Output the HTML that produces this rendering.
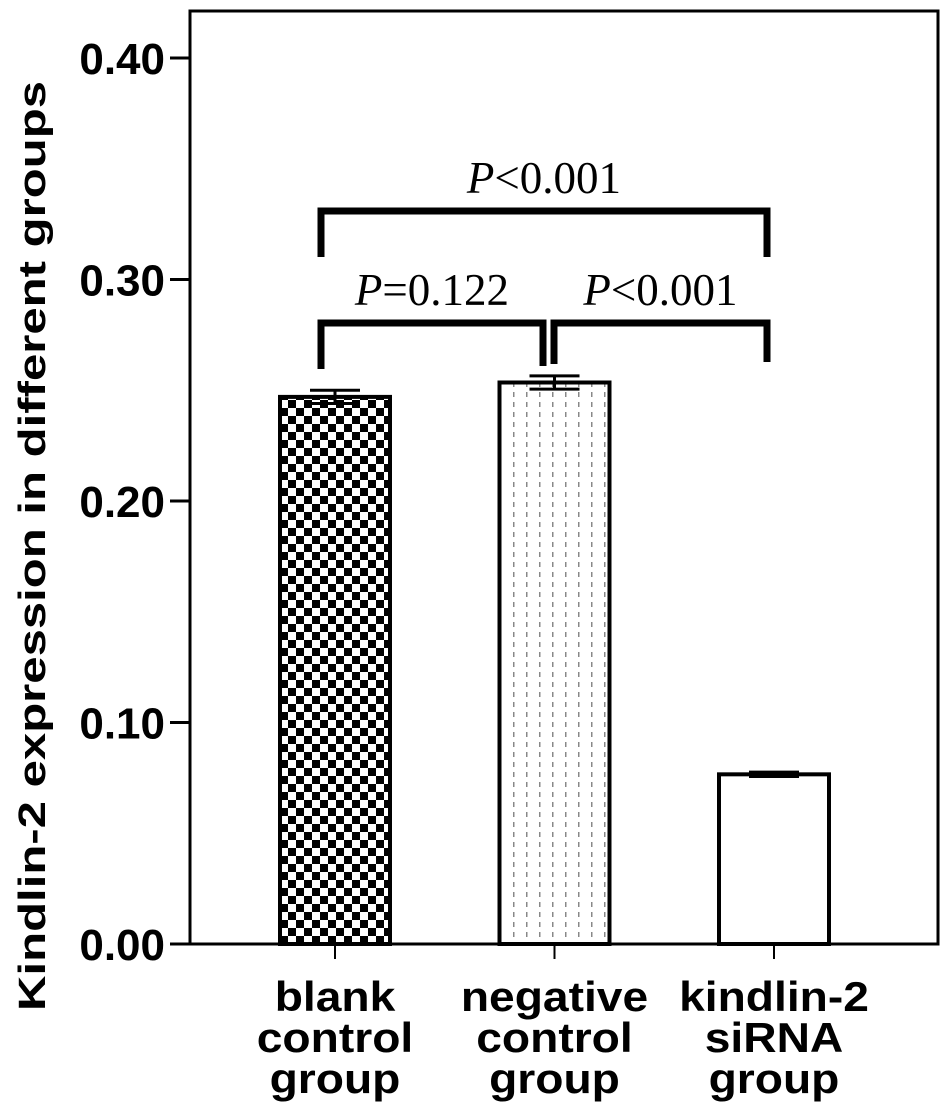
<!DOCTYPE html>
<html><head><meta charset="utf-8"><style>
html,body{margin:0;padding:0;background:#fff;}
svg{display:block;}
.sans{font-family:"Liberation Sans",sans-serif;font-weight:bold;}
.serif{font-family:"Liberation Serif",serif;}
</style></head><body>
<svg id="chart" width="945" height="1119" viewBox="0 0 945 1119" xmlns="http://www.w3.org/2000/svg">
<defs>
<pattern id="checker" width="16" height="16" patternUnits="userSpaceOnUse">
<rect width="16" height="16" fill="#fff"/><rect width="8" height="8" fill="#000"/><rect x="8" y="8" width="8" height="8" fill="#000"/>
</pattern>
<pattern id="dots" width="13" height="10" patternUnits="userSpaceOnUse">
<rect width="13" height="10" fill="#fff"/><rect x="6" y="2" width="1.5" height="5" fill="#888"/>
</pattern>
</defs>
<g id="plot"></g>
</svg>
<script>
const categories = [["blank","control","group"],["negative","control","group"],["kindlin-2","siRNA","group"]];
const values = [0.247, 0.2535, 0.0766];
const errors = [0.003, 0.003, 0.001];
const yTicks = [0, 0.1, 0.2, 0.3, 0.4];
const yTickLabels = ["0.00","0.10","0.20","0.30","0.40"];
const fills = ["url(#checker)","url(#dots)","#fff"];

const NS="http://www.w3.org/2000/svg";
const g=document.getElementById('plot');
const x0=190, x1=938, yTop=11, yBase=944;
const y=v=>yBase-(yBase-58)*v/0.4;
const xc=i=>335+i*219.5;
const bw=110;
function el(tag,attrs,parent){const e=document.createElementNS(NS,tag);for(const k in attrs)e.setAttribute(k,attrs[k]);(parent||g).appendChild(e);return e;}

const frame=el('rect',{x:x0,y:yTop,width:x1-x0,height:yBase-yTop,fill:'none',stroke:'#000','stroke-width':3});



yTicks.forEach((t,i)=>{
  const tk=el('line',{x1:170,x2:x0,y1:y(t),y2:y(t),stroke:'#000','stroke-width':3});
  
  
  const lb=el('text',{x:165,y:y(t)+16,'text-anchor':'end','font-size':44,class:'sans'});
  lb.textContent=yTickLabels[i];
  
  
});

values.forEach((v,i)=>{
  const cx=xc(i);
  const b=el('rect',{x:cx-bw/2,y:y(v),width:bw,height:yBase-y(v),fill:fills[i],stroke:'#000','stroke-width':4});
  
  
  const eb=el('path',{d:`M${cx-25} ${y(v+errors[i])}H${cx+25}M${cx} ${y(v+errors[i])}V${y(v-errors[i])}M${cx-25} ${y(v-errors[i])}H${cx+25}`,stroke:'#000','stroke-width':3,fill:'none'});
  
  
  const tk=el('line',{x1:cx,x2:cx,y1:yBase,y2:yBase+15,stroke:'#000','stroke-width':2});
  
  
  categories[i].forEach((w,j)=>{
    const t=el('text',{x:cx,y:1011+j*41,'text-anchor':'middle','font-size':42,class:'sans',transform:`translate(${cx} 0) scale(1.1 1) translate(${-cx} 0)`});
    t.textContent=w;
    
    
  });
});

function bracket(xa,xb,top,ya,yb,label,name){
  const p=el('path',{d:`M${xa} ${ya}V${top}H${xb}V${yb}`,stroke:'#000','stroke-width':7,fill:'none'});
  
  
  const t=el('text',{x:(xa+xb)/2,y:top-18,'text-anchor':'middle','font-size':45,class:'serif'});
  t.innerHTML='<tspan font-style="italic">P</tspan>'+label;
  
  
}
bracket(321,543,323,369,366,'=0.122','bracket-blank-negative');
bracket(554,767,323,364,362,'&lt;0.001','bracket-negative-sirna');
bracket(321,767,211,257,257,'&lt;0.001','bracket-blank-sirna');

const yt=el('text',{x:0,y:0,'text-anchor':'middle','font-size':38,class:'sans',transform:'translate(45,546) rotate(-90)',textLength:930,lengthAdjust:'spacingAndGlyphs'});
yt.textContent='Kindlin-2 expression in different groups';


</script>
</body></html>
